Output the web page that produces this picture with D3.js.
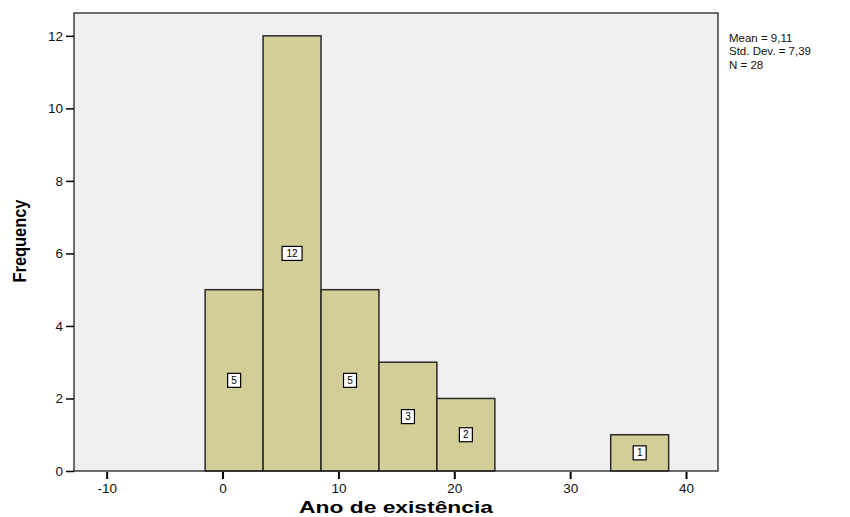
<!DOCTYPE html>
<html><head><meta charset="utf-8">
<script src="https://cdn.jsdelivr.net/npm/d3@7"></script>
<style>body{margin:0;background:#fff}svg{display:block}text{font-family:"Liberation Sans",Arial,sans-serif}</style>
</head><body>
<svg id="c" width="850" height="517"></svg>
<script>
const binStarts = [-1.5, 3.5, 8.5, 13.5, 18.5, 23.5, 28.5, 33.5];
const binWidth = 5;
const counts = [5, 12, 5, 3, 2, 0, 0, 1];
const xTicks = [-10, 0, 10, 20, 30, 40];
const yTicks = [0, 2, 4, 6, 8, 10, 12];
const stats = ["Mean = 9,11", "Std. Dev. = 7,39", "N = 28"];
const xTitle = "Ano de existência";
const yTitle = "Frequency";

const svg = d3.select("#c");
const L = 74, R = 718, T = 13, B = 471;
const x = d3.scaleLinear().domain([-12.82, 42.76]).range([L, R]);
const y = d3.scaleLinear().domain([0, 12.63]).range([B, T]);

svg.append("rect").attr("x", L).attr("y", T).attr("width", R - L).attr("height", B - T)
  .attr("fill", "#f0f0f0");

const bins = binStarts.map((s, i) => ({s, e: s + binWidth, c: counts[i]})).filter(d => d.c > 0);
svg.selectAll("rect.bar").data(bins).enter().append("rect").attr("class", "bar")
  .attr("x", d => x(d.s)).attr("y", d => y(d.c))
  .attr("width", d => x(d.e) - x(d.s)).attr("height", d => y(0) - y(d.c))
  .attr("fill", "#d3ce97").attr("stroke", "#2a2a2a").attr("stroke-width", 1.5);

const lab = svg.selectAll("g.lab").data(bins).enter().append("g").attr("class", "lab")
  .attr("transform", d => `translate(${x((d.s + d.e) / 2)},${y(d.c / 2)})`);
lab.append("rect").attr("x", d => d.c >= 10 ? -10 : -6.5).attr("y", -7)
  .attr("width", d => d.c >= 10 ? 20 : 13).attr("height", 14)
  .attr("fill", "#fff").attr("stroke", "#000").attr("stroke-width", 1.2);
lab.append("text").attr("text-anchor", "middle").attr("dy", "0.35em")
  .attr("font-size", 10).text(d => d.c);

// frame
svg.append("rect").attr("x", L).attr("y", T).attr("width", R - L).attr("height", B - T)
  .attr("fill", "none").attr("stroke", "#222").attr("stroke-width", 1.3);

// y axis
const ya = svg.append("g").attr("transform", `translate(${L},0)`)
  .call(d3.axisLeft(y).tickValues(yTicks).tickFormat(d => String(d)).tickSize(8).tickPadding(3).tickSizeOuter(0));
ya.select(".domain").remove();
ya.selectAll("line").attr("stroke", "#000").attr("stroke-width", 1.5);
ya.selectAll("text").attr("font-size", 13.5).attr("fill", "#111")
  .style("font-family", '"Liberation Sans",Arial,sans-serif');

// x axis
const xa = svg.append("g").attr("transform", `translate(0,${B + 1})`)
  .call(d3.axisBottom(x).tickValues(xTicks).tickFormat(d => String(d)).tickSize(7).tickPadding(4).tickSizeOuter(0));
xa.select(".domain").remove();
xa.selectAll("line").attr("stroke", "#000").attr("stroke-width", 2);
xa.selectAll("text").attr("font-size", 13.5).attr("fill", "#111")
  .style("font-family", '"Liberation Sans",Arial,sans-serif');

svg.append("text").attr("x", 396).attr("y", 513).attr("text-anchor", "middle")
  .attr("font-size", 16).attr("font-weight", "bold").attr("textLength", 194)
  .attr("lengthAdjust", "spacingAndGlyphs").text(xTitle);

svg.append("text").attr("transform", "translate(26,241) rotate(-90)").attr("text-anchor", "middle")
  .attr("font-size", 18).attr("font-weight", "bold").attr("textLength", 83)
  .attr("lengthAdjust", "spacingAndGlyphs").text(yTitle);

svg.selectAll("text.st").data(stats).enter().append("text").attr("class", "st")
  .attr("x", 729).attr("y", (d, i) => 42 + i * 13.3).attr("font-size", 11.5).attr("fill", "#111").text(d => d);
</script>
</body></html>
